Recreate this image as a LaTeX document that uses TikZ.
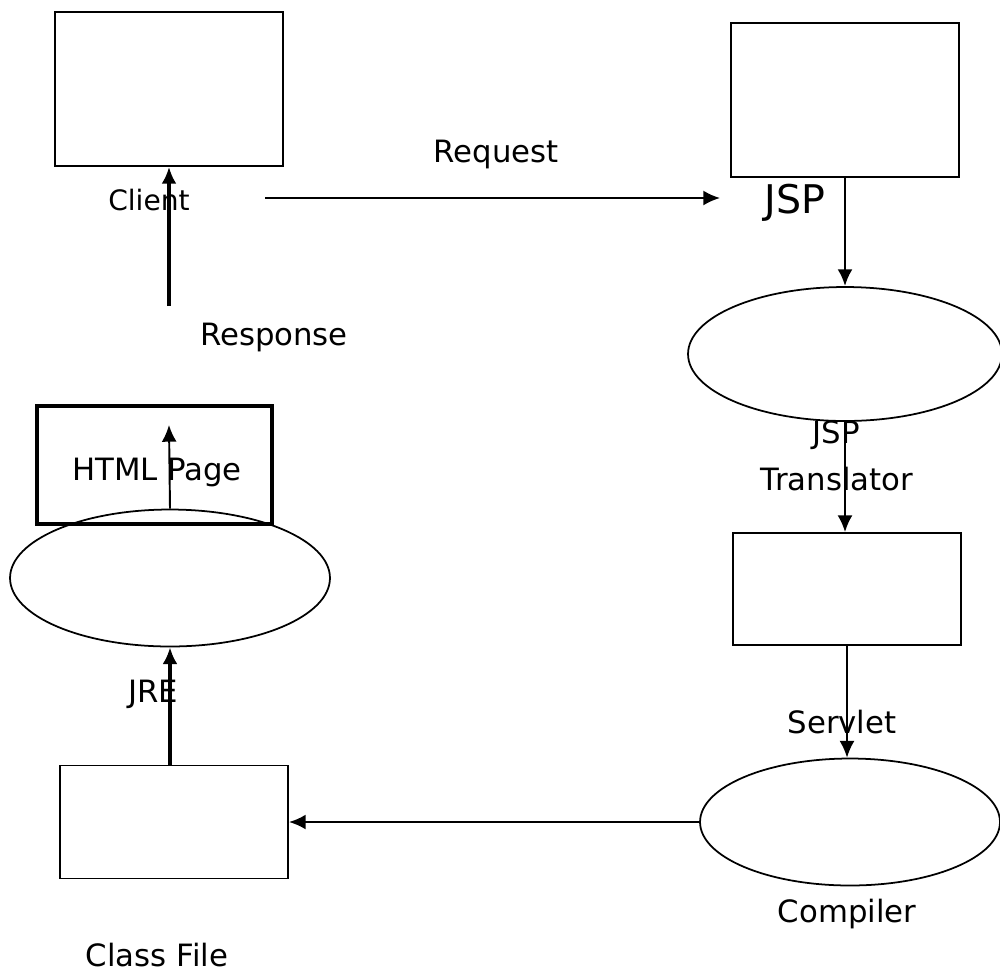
\documentclass[tikz,border=0pt]{standalone}
\usepackage{fontspec}
\setmainfont{DejaVu Sans}
\usetikzlibrary{shapes.geometric,arrows.meta}
\begin{document}
\begin{tikzpicture}[x=0.02cm, y=-0.02cm,
	box/.style={draw, line width=1.1pt, inner sep=0, minimum width=4.56cm},
	oval/.style={ellipse, draw, line width=1pt, inner sep=0},
	l/.style={font=\fontsize{17.5}{22}\selectfont, inner sep=0, anchor=base},
	flow/.style={line width=1.1pt, -{Latex[length=9.5pt,width=8.5pt]}},
	bold/.style={line width=1.9pt, -{Latex[length=9.5pt,width=8.5pt]}}]
	\useasboundingbox (0,0) rectangle (1000,971);

	% boxes and ovals
	\node[box, minimum height=3.08cm] (client) at (169,89) {};
	\node[box, minimum height=3.08cm] (jsp) at (845,100) {};
	\node[oval, minimum width=6.28cm, minimum height=2.68cm] (trans) at (845,354) {};
	\node[box, minimum height=2.24cm] (servlet) at (847,589) {};
	\node[oval, minimum width=6cm, minimum height=2.54cm] (compiler) at (850,822) {};
	\node[box, minimum height=2.26cm] (classfile) at (174,822) {};
	\node[box, line width=2pt, minimum width=4.7cm, minimum height=2.36cm] (html) at (154.5,465) {};
	\node[oval, minimum width=6.4cm, minimum height=2.74cm] (jre) at (170,578) {};

	% free ends
	\coordinate (resp) at (169,306);
	\coordinate (reqa) at (265,198);
	\coordinate (reqb) at (720,198);
	\coordinate (htmltip) at (169,425);

	% arrows
	\draw[bold] (resp) -- (client.south);
	\draw[flow] (reqa) -- (reqb);
	\draw[bold, line width=1.6pt] (jsp.south) -- (trans.north);
	\draw[flow] (trans.south) -- (trans.south |- servlet.north);
	\draw[flow] (servlet.south) -- (servlet.south |- compiler.north);
	\draw[flow, line width=1.3pt] (compiler.west) -- (classfile.east);
	\draw[bold] (jre.south |- classfile.north) -- (jre.south);
	\draw[flow] (jre.north) -- (htmltip);

	% labels
	\node[l, font=\fontsize{16}{20}\selectfont] (clientlbl) at (149,210) {Client};
	\node[l] (reqlbl) at (496,162) {Request};
	\node[l, font=\fontsize{22.5}{27}\selectfont] (jsplbl) at (795,213) {JSP};
	\node[l] (resplbl) at (274,345) {Response};
	\node[l] (translbla) at (836,443) {JSP};
	\node[l] (translblb) at (837,490) {Translator};
	\node[l] (servletlbl) at (842,733) {Servlet};
	\node[l] (compilerlbl) at (847,922) {Compiler};
	\node[l] (classlbl) at (157,966) {Class File};
	\node[l] (jrelbl) at (153,702) {JRE};
	\node[l] (htmllbl) at (157,480) {HTML Page};
\end{tikzpicture}
\end{document}
